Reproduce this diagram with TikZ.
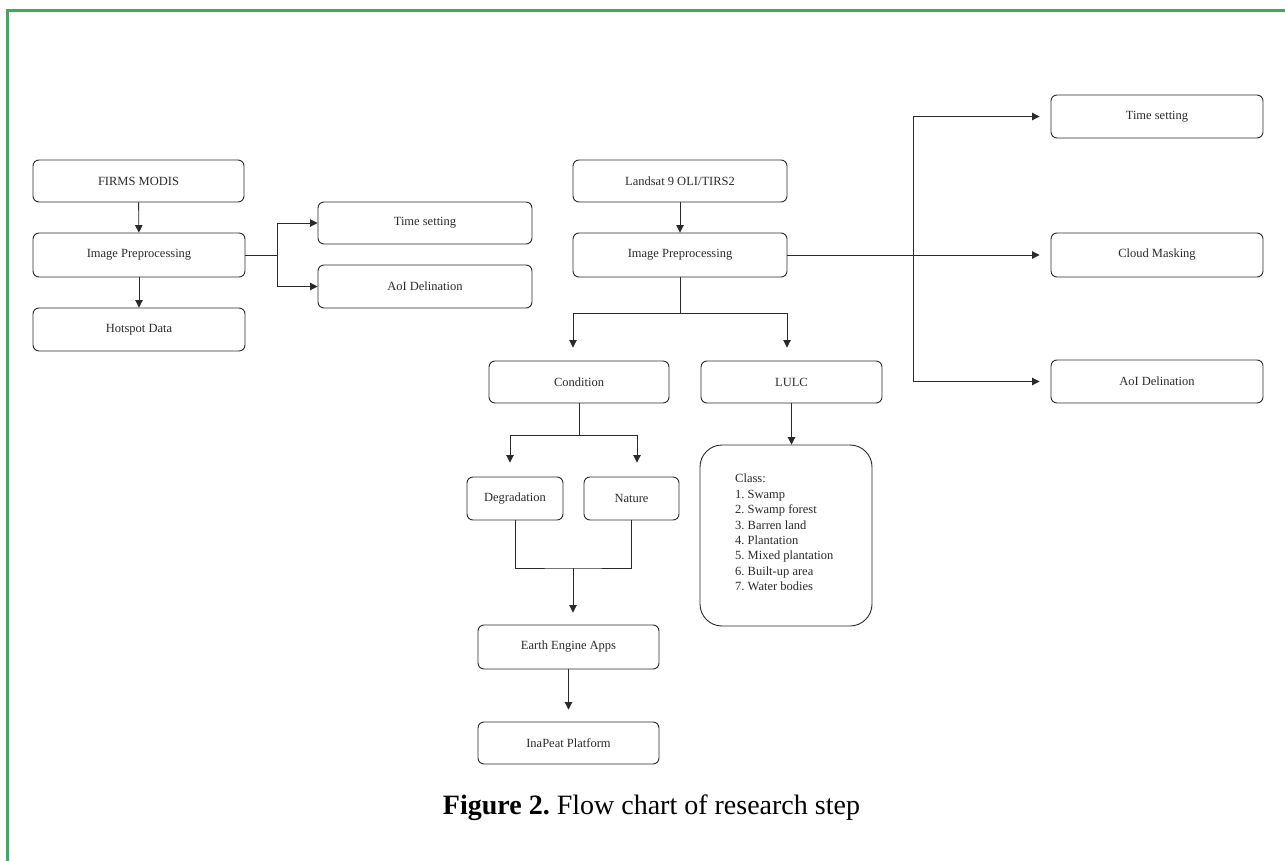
\documentclass[tikz,border=0pt]{standalone}
\usepackage{fontspec}
\setmainfont{Liberation Serif}
\usetikzlibrary{arrows.meta}
\definecolor{frameg}{HTML}{3DAA60}
\definecolor{ink}{HTML}{2A2A2A}
\frenchspacing
\tikzset{
  stepbox/.style={draw=ink, line width=0.9pt, rounded corners=6pt, inner sep=0pt,
    font=\fontsize{12.5}{15}\selectfont, text=ink},
  conn/.style={draw=ink, line width=0.9pt},
  arr/.style={conn, -{Triangle[length=7.5pt,width=7.5pt]}},
}
\begin{document}
\begin{tikzpicture}[x=1pt,y=-1pt]
\useasboundingbox (0,0) rectangle (1285,861);
% frame
\draw[frameg, line width=2.8pt] (7.3,870) -- (7.3,10.6) -- (1295,10.6);

% left column
\node[stepbox, minimum width=211pt, minimum height=42pt] (firms) at (138.5,181) {FIRMS MODIS};
\node[stepbox, minimum width=212pt, minimum height=44pt] (ipL) at (139,255) {Image Preprocessing};
\node[stepbox, minimum width=212pt, minimum height=43pt] (hot) at (139,329.5) {Hotspot Data};
\node[stepbox, minimum width=214pt, minimum height=42pt] (tsL) at (425,223) {Time setting};
\node[stepbox, minimum width=214pt, minimum height=43pt] (aoiL) at (425,286.5) {AoI Delination};

% center column
\node[stepbox, minimum width=214pt, minimum height=42pt] (land) at (680,181) {Landsat 9 OLI/TIRS2};
\node[stepbox, minimum width=214pt, minimum height=44pt] (ipC) at (680,255) {Image Preprocessing};
\node[stepbox, minimum width=180pt, minimum height=42pt] (cond) at (579,382) {Condition};
\node[stepbox, minimum width=181pt, minimum height=42pt] (lulc) at (791.5,382) {LULC};
\node[stepbox, minimum width=96pt, minimum height=43pt] (deg) at (515,498.5) {Degradation};
\node[stepbox, minimum width=95pt, minimum height=43pt] (nat) at (631.5,498.5) {Nature};
\node[stepbox, minimum width=172pt, minimum height=181pt, rounded corners=22pt] (cls) at (786,535.5) {};
\node[anchor=north west, inner sep=0pt, align=left, text=ink,
  font=\fontsize{12.5}{15.4}\selectfont] (clstext) at (735,474)
  {Class:\\1. Swamp\\2. Swamp forest\\3. Barren land\\4. Plantation\\5. Mixed plantation\\6. Built-up area\\7. Water bodies};
\node[stepbox, minimum width=181pt, minimum height=44pt] (eea) at (568.5,647) {Earth Engine Apps};
\node[stepbox, minimum width=181pt, minimum height=42pt] (ina) at (568.5,743) {InaPeat Platform};

% right column
\node[stepbox, minimum width=212pt, minimum height=43pt] (tsR) at (1157,116.5) {Time setting};
\node[stepbox, minimum width=212pt, minimum height=44pt] (cmR) at (1157,255) {Cloud Masking};
\node[stepbox, minimum width=212pt, minimum height=43pt] (aoiR) at (1157,381.5) {AoI Delination};

% caption
\node[anchor=base, inner sep=0pt, font=\fontsize{28}{32}\selectfont, text=black] (cap) at (651.5,814)
  {\textbf{Figure 2.} Flow chart of research step};

% connectors left
\draw[arr] (firms) -- (ipL);
\draw[arr] (ipL) -- (hot);
\draw[arr] (ipL.east) -- ++(32,0) |- (tsL.west);
\draw[arr] (ipL.east) -- ++(32,0) |- (aoiL.west);

% connectors center
\draw[arr] (land) -- (ipC);
\draw[arr, shorten >=13pt] (ipC.south) -- ++(0,36) -| ([xshift=-6pt]cond.north);
\draw[arr, shorten >=13pt] (ipC.south) -- ++(0,36) -| ([xshift=-4.5pt]lulc.north);
\draw[arr] (lulc.south) -- (lulc.south |- cls.north);
\draw[arr, shorten >=14pt] (cond.south) -- ++(0,32) -| ([xshift=-5pt]deg.north);
\draw[arr, shorten >=14pt] (cond.south) -- ++(0,32) -| ([xshift=5.5pt]nat.north);
\coordinate (m) at (573,568);
\draw[conn] (deg.south) |- (m) -| (nat.south);
\draw[arr, shorten >=12pt] (m) -- (m |- eea.north);
\draw[arr, shorten >=12pt] (eea) -- (ina);

% connectors right
\draw[arr, shorten >=11pt] (ipC.east) -- (cmR.west);
\coordinate (v) at (913,255);
\draw[arr, shorten >=11pt] (v) |- (tsR.west);
\draw[arr, shorten >=11pt] (v) |- (aoiR.west);
\end{tikzpicture}
\end{document}
